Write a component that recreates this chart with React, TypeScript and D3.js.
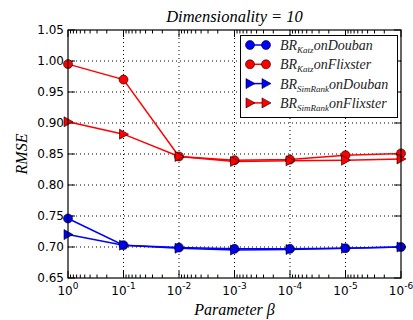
import * as d3 from 'd3'
import { useEffect, useRef } from 'react'

const betas = [1, 1e-1, 1e-2, 1e-3, 1e-4, 1e-5, 1e-6]
const katzDouban = [0.746, 0.703, 0.699, 0.697, 0.697, 0.698, 0.7]
const katzFlixster = [0.995, 0.97, 0.846, 0.84, 0.841, 0.848, 0.851]
const simDouban = [0.72, 0.703, 0.698, 0.695, 0.696, 0.698, 0.7]
const simFlixster = [0.902, 0.882, 0.846, 0.838, 0.839, 0.84, 0.842]
const yTicks = [0.65, 0.7, 0.75, 0.8, 0.85, 0.9, 0.95, 1.0, 1.05]
const xExponents = [0, -1, -2, -3, -4, -5, -6]

const series = [
    { sub: 'Katz', rest: 'onDouban', values: katzDouban, color: '#0000ff', marker: 'circle' },
    { sub: 'Katz', rest: 'onFlixster', values: katzFlixster, color: '#ff0000', marker: 'circle' },
    { sub: 'SimRank', rest: 'onDouban', values: simDouban, color: '#0000ff', marker: 'tri' },
    { sub: 'SimRank', rest: 'onFlixster', values: simFlixster, color: '#ff0000', marker: 'tri' },
]

const width = 413
const height = 320
const serif = '"Liberation Serif", "DejaVu Serif", serif'
const sans = '"DejaVu Sans", sans-serif'

export default function App() {
    const svgRef = useRef<SVGSVGElement>(null)

    useEffect(() => {
        if (!svgRef.current) return
        const svg = d3.select(svgRef.current)
        svg.selectAll('*').remove()

        const left = 68
        const right = 401
        const top = 30
        const bottom = 278

        const x = d3.scaleLog().domain([1, 1e-6]).range([left, right])
        const y = d3.scaleLinear().domain([0.65, 1.05]).range([bottom, top])

        svg.append('rect').attr('width', width).attr('height', height).attr('fill', '#fff')

        // grid
        const grid = svg.append('g').attr('stroke', '#000').attr('stroke-width', 1).attr('stroke-dasharray', '1,3')
        betas.slice(1, -1).forEach((b) => {
            grid.append('line').attr('x1', x(b)).attr('x2', x(b)).attr('y1', top).attr('y2', bottom)
        })
        yTicks.slice(1, -1).forEach((v) => {
            grid.append('line').attr('x1', left).attr('x2', right).attr('y1', y(v)).attr('y2', y(v))
        })

        // ticks
        const ticks = svg.append('g').attr('stroke', '#000').attr('stroke-width', 1)
        betas.forEach((b) => {
            ticks.append('line').attr('x1', x(b)).attr('x2', x(b)).attr('y1', bottom).attr('y2', bottom - 7)
            ticks.append('line').attr('x1', x(b)).attr('x2', x(b)).attr('y1', top).attr('y2', top + 7)
        })
        xExponents.slice(0, -1).forEach((e) => {
            for (let m = 2; m <= 9; m++) {
                const v = m * Math.pow(10, e - 1)
                ticks.append('line').attr('x1', x(v)).attr('x2', x(v)).attr('y1', bottom).attr('y2', bottom - 3.5)
                ticks.append('line').attr('x1', x(v)).attr('x2', x(v)).attr('y1', top).attr('y2', top + 3.5)
            }
        })
        yTicks.forEach((v) => {
            ticks.append('line').attr('x1', left).attr('x2', left + 7).attr('y1', y(v)).attr('y2', y(v))
            ticks.append('line').attr('x1', right).attr('x2', right - 7).attr('y1', y(v)).attr('y2', y(v))
        })

        // tick labels
        yTicks.forEach((v) => {
            svg.append('text')
                .attr('x', left - 4)
                .attr('y', y(v))
                .attr('dy', '0.35em')
                .attr('text-anchor', 'end')
                .style('font-family', sans)
                .style('font-size', '12px')
                .text(d3.format('.2f')(v))
        })
        xExponents.forEach((e, i) => {
            const t = svg.append('text')
                .attr('x', x(betas[i]))
                .attr('y', bottom + 17)
                .attr('text-anchor', 'middle')
                .style('font-family', sans)
                .style('font-size', '12px')
            t.append('tspan').text('10')
            t.append('tspan').attr('dy', -6).style('font-size', '9px').text(String(e))
        })

        // lines and markers
        series.forEach((s) => {
            const pts = s.values.map((v, i) => [x(betas[i]), y(v)] as [number, number])
            svg.append('path')
                .attr('d', d3.line()(pts))
                .attr('fill', 'none')
                .attr('stroke', s.color)
                .attr('stroke-width', 1.5)
        })
        const tri = (cx: number, cy: number, r: number) =>
            `M${cx + r},${cy}L${cx - r * 0.8},${cy - r}L${cx - r * 0.8},${cy + r}Z`
        series.forEach((s) => {
            s.values.forEach((v, i) => {
                const cx = x(betas[i])
                const cy = y(v)
                if (s.marker === 'circle') {
                    svg.append('circle').attr('cx', cx).attr('cy', cy).attr('r', 4.5)
                        .attr('fill', s.color).attr('stroke', '#000').attr('stroke-width', 0.6)
                } else {
                    svg.append('path').attr('d', tri(cx, cy, 5))
                        .attr('fill', s.color).attr('stroke', '#000').attr('stroke-width', 0.6)
                }
            })
        })

        // frame
        svg.append('rect')
            .attr('x', left).attr('y', top)
            .attr('width', right - left).attr('height', bottom - top)
            .attr('fill', 'none').attr('stroke', '#000').attr('stroke-width', 1.2)

        // legend
        const lg = svg.append('g')
        lg.append('rect').attr('x', 240.5).attr('y', 35.5).attr('width', 157).attr('height', 82)
            .attr('fill', '#fff').attr('stroke', '#000').attr('stroke-width', 1)
        series.forEach((s, i) => {
            const ly = 45 + i * 19.3
            lg.append('line').attr('x1', 250).attr('x2', 266).attr('y1', ly).attr('y2', ly)
                .attr('stroke', s.color).attr('stroke-width', 1.5)
            ;[250, 266].forEach((cx) => {
                if (s.marker === 'circle') {
                    lg.append('circle').attr('cx', cx).attr('cy', ly).attr('r', 4.5)
                        .attr('fill', s.color).attr('stroke', '#000').attr('stroke-width', 0.6)
                } else {
                    lg.append('path').attr('d', tri(cx, ly, 5))
                        .attr('fill', s.color).attr('stroke', '#000').attr('stroke-width', 0.6)
                }
            })
            const t = lg.append('text')
                .attr('x', 280).attr('y', ly + 5)
                .style('font-family', serif).style('font-style', 'italic').style('font-size', '14px')
                .style('fill', '#222')
            t.append('tspan').text('BR')
            t.append('tspan').attr('dy', 3).style('font-size', '9px').text(s.sub)
            t.append('tspan').attr('dy', -3).text(s.rest)
        })

        // titles
        svg.append('text').attr('x', (left + right) / 2).attr('y', 22).attr('text-anchor', 'middle')
            .style('font-family', serif).style('font-style', 'italic').style('font-size', '16.5px')
            .text('Dimensionality = 10')
        svg.append('text').attr('x', (left + right) / 2).attr('y', 315).attr('text-anchor', 'middle')
            .style('font-family', serif).style('font-style', 'italic').style('font-size', '16px')
            .text('Parameter β')
        svg.append('text').attr('transform', `translate(27,${(top + bottom) / 2}) rotate(-90)`)
            .attr('text-anchor', 'middle')
            .style('font-family', serif).style('font-style', 'italic').style('font-size', '16px')
            .text('RMSE')
    }, [])

    return (
        <svg
            ref={svgRef}
            width={width}
            height={height}
            style={{ position: 'absolute', left: 0, top: 0, display: 'block' }}
        />
    )
}
